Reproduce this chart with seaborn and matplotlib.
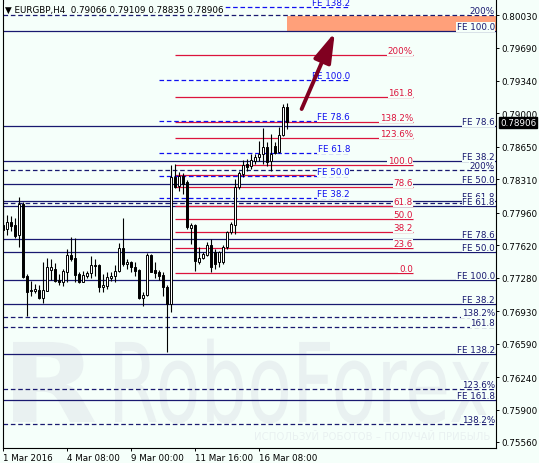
import numpy as np
import pandas as pd
import matplotlib
matplotlib.use("Agg")
import matplotlib.pyplot as plt
import matplotlib.transforms as mtrans
from matplotlib.textpath import TextPath
from matplotlib.patches import PathPatch
from matplotlib.font_manager import FontProperties
import seaborn as sns

# EURGBP H4 candles
opens = [0.7783, 0.7779, 0.7786, 0.7783, 0.7773, 0.7805, 0.7730, 0.7715, 0.7714, 0.7715,
         0.7707, 0.7714, 0.7736, 0.7737, 0.7726, 0.7724, 0.7734, 0.7752, 0.7749, 0.7732,
         0.7724, 0.7730, 0.7733, 0.7741, 0.7741, 0.7718, 0.7719, 0.7728, 0.7730, 0.7735,
         0.7759, 0.7742, 0.7744, 0.7739, 0.7736, 0.7707, 0.7710, 0.7752, 0.7736, 0.7734,
         0.7731, 0.7718, 0.7700, 0.7833, 0.7824, 0.7835, 0.7828, 0.7780, 0.7783, 0.7744,
         0.7749, 0.7752, 0.7762, 0.7755, 0.7744, 0.7744, 0.7760, 0.7776, 0.7783, 0.7823,
         0.7837, 0.7847, 0.7845, 0.7850, 0.7854, 0.7858, 0.7865, 0.7850, 0.7866, 0.7860,
         0.7877, 0.79066]
highs = [0.7810, 0.7794, 0.7793, 0.7791, 0.7812, 0.7807, 0.7732, 0.7725, 0.7721, 0.7720,
         0.7744, 0.7749, 0.7748, 0.7743, 0.7732, 0.7737, 0.7758, 0.7771, 0.7770, 0.7734,
         0.7735, 0.7735, 0.7751, 0.7748, 0.7742, 0.7732, 0.7734, 0.7734, 0.7741, 0.7764,
         0.7791, 0.7748, 0.7745, 0.7744, 0.7737, 0.7713, 0.7754, 0.7753, 0.7744, 0.7736,
         0.7734, 0.7720, 0.7846, 0.7847, 0.7839, 0.7838, 0.7830, 0.7785, 0.7784, 0.7760,
         0.7755, 0.7765, 0.7768, 0.7758, 0.7756, 0.7762, 0.7777, 0.7786, 0.7831, 0.7840,
         0.7851, 0.7852, 0.7857, 0.7857, 0.7871, 0.7885, 0.7870, 0.7878, 0.7870, 0.7886,
         0.7910, 0.79109]
lows = [0.7766, 0.7773, 0.7777, 0.7770, 0.7760, 0.7728, 0.7688, 0.7709, 0.7712, 0.7706,
        0.7702, 0.7714, 0.7726, 0.7724, 0.7720, 0.7719, 0.7724, 0.7746, 0.7723, 0.7722,
        0.7723, 0.7728, 0.7728, 0.7730, 0.7713, 0.7713, 0.7716, 0.7725, 0.7724, 0.7734,
        0.7740, 0.7737, 0.7734, 0.7730, 0.7706, 0.7698, 0.7709, 0.7734, 0.7728, 0.7726,
        0.7709, 0.7650, 0.7692, 0.7822, 0.7819, 0.7816, 0.7779, 0.7763, 0.7735, 0.7742,
        0.7748, 0.7751, 0.7734, 0.7737, 0.7739, 0.7742, 0.7758, 0.7774, 0.7774, 0.7821,
        0.7833, 0.7840, 0.7842, 0.7847, 0.7850, 0.7847, 0.7845, 0.7840, 0.7857, 0.7859,
        0.7876, 0.78835]
closes = [0.7778, 0.7786, 0.7782, 0.7772, 0.7805, 0.7729, 0.7713, 0.7714, 0.7716, 0.7707,
          0.7715, 0.7739, 0.7739, 0.7725, 0.7724, 0.7735, 0.7752, 0.7748, 0.7731, 0.7723,
          0.7731, 0.7733, 0.7741, 0.7740, 0.7718, 0.7720, 0.7729, 0.7730, 0.7735, 0.7759,
          0.7742, 0.7744, 0.7739, 0.7735, 0.7707, 0.7710, 0.7752, 0.7734, 0.7733, 0.7730,
          0.7718, 0.7700, 0.7833, 0.7823, 0.7834, 0.7826, 0.7781, 0.7783, 0.7745, 0.7749,
          0.7753, 0.7762, 0.7739, 0.7742, 0.7755, 0.7760, 0.7776, 0.7784, 0.7823, 0.7838,
          0.7846, 0.7844, 0.7851, 0.7854, 0.7858, 0.7865, 0.7849, 0.7858, 0.7859, 0.7877,
          0.7907, 0.78906]

x_ticks = [0, 16, 32, 48, 64]
x_labels = ['1 Mar 2016', '4 Mar 08:00', '9 Mar 00:00', '11 Mar 16:00', '16 Mar 08:00']
y_ticks = [0.80030, 0.79690, 0.79340, 0.79000, 0.78650, 0.78310, 0.77960,
           0.77620, 0.77280, 0.76930, 0.76590, 0.76240, 0.75900, 0.75560]

# red fibo retracement
fibo_levels = [0.79609, 0.79169, 0.78907, 0.78740, 0.78463, 0.78227, 0.78028,
               0.77895, 0.77755, 0.77591, 0.77329]
fibo_labels = ['200%', '161.8', '138.2%', '123.6%', '100.0', '78.6', '61.8',
               '50.0', '38.2', '23.6', '0.0']
red_extra = 0.78355

# short blue dashed expansion
fe_short_levels = [0.80114, 0.79350, 0.78918, 0.78582, 0.78342, 0.78111]
fe_short_labels = ['FE 138.2', 'FE 100.0', 'FE 78.6', 'FE 61.8', 'FE 50.0', 'FE 38.2']

# long navy levels
fe_levels = [0.79860, 0.78865, 0.78499, 0.78261, 0.78088, 0.78031, 0.77685,
             0.77552, 0.77259, 0.77005, 0.76481, 0.75999]
fe_labels = ['FE 100.0', 'FE 78.6', 'FE 38.2', 'FE 50.0', 'FE 61.8', 'FE 61.8',
             'FE 78.6', 'FE 50.0', 'FE 100.0', 'FE 38.2', 'FE 138.2', 'FE 161.8']
pct_levels = [0.80030, 0.78408, 0.78062, 0.76865, 0.76761, 0.76115, 0.75748]
pct_labels = ['200%', '200%', '', '138.2%', '161.8', '123.6%', '138.2%']

target_zone = (0.79860, 0.80017)
arrow_from = (74.6, 0.79046)
arrow_to = (82.9, 0.79849)
last_price = 0.78906

bg = '#F5FFFA'
navy = '#191970'
red = '#DC143C'
blue = '#1010F0'
fs = 6.3

sns.set_theme(style='white')
plt.rcParams['font.family'] = ['DejaVu Sans']
plt.rcParams['lines.scale_dashes'] = False

df = pd.DataFrame({'open': opens, 'high': highs, 'low': lows, 'close': closes})
df['idx'] = np.arange(len(df))
df['up'] = df['close'] >= df['open']

fig = plt.figure(figsize=(5.39, 4.64), dpi=100, facecolor=bg)
ax = fig.add_axes([0.005, 0.0334, 0.9152, 0.9666])
ax.set_facecolor(bg)
x0, x1 = -0.15, 123.2

# watermark
wm = '#E9F1F1'
fp = FontProperties(family='DejaVu Sans')
tp = TextPath((0, 0), 'RoboForex', size=1, prop=fp)
ext = tp.get_extents()
sx, sy = 375 / ext.width, 80 / 0.729
tr = mtrans.Affine2D().scale(sx, sy).translate(115 - ext.x0 * sx, 464 - 423)
ax.add_patch(PathPatch(tp, transform=tr, facecolor=wm, edgecolor='none', zorder=0.5))
tpr = TextPath((0, 0), 'R', size=1, prop=FontProperties(family='DejaVu Sans', weight='bold'))
er = tpr.get_extents()
sxr, syr = 82 / er.width, 80 / 0.729
trr = mtrans.Affine2D().scale(sxr, syr).translate(13 - er.x0 * sxr, 464 - 423)
ax.add_patch(PathPatch(tpr, transform=trr, facecolor=wm, edgecolor='none', zorder=0.5))
ax.text(490 / 539, 1 - 437 / 464, 'ИСПОЛЬЗУЙ РОБОТОВ – ПОЛУЧАЙ ПРИБЫЛЬ', transform=fig.transFigure,
        ha='right', va='center', fontsize=7.3, color=wm, zorder=0.5)
ax.set_xlim(x0, x1)
ax.set_ylim(0.755022, 0.80198)

# target zone
ax.fill_between([70.9, x1], target_zone[0], target_zone[1], color='#FFA07A', lw=0, zorder=1)

dash = (0, (3.3, 2.0))
off = 0.00021


def level_label(x, y, s, color):
    if s:
        ax.text(x, y + off, s, color=color, fontsize=fs, ha='right', va='baseline',
                bbox=dict(facecolor=bg, edgecolor='none', pad=0.3), zorder=4)


ax.hlines(fe_levels, x0, x1, color=navy, lw=0.9, zorder=2)
for lv, lb in zip(fe_levels, fe_labels):
    level_label(122.9, lv, lb, navy)
ax.hlines(pct_levels, x0, x1, color=navy, lw=0.9, linestyles=[dash], zorder=2)
for lv, lb in zip(pct_levels, pct_labels):
    level_label(122.9, lv, lb, navy)

ax.hlines(fibo_levels, 42.9, 102.4, color=red, lw=0.9, zorder=3)
ax.hlines([red_extra], 42.9, 77.9, color=red, lw=0.9, zorder=3)
for lv, lb in zip(fibo_levels, fibo_labels):
    level_label(102.4, lv, lb, red)

ax.hlines(fe_short_levels, 38.9, 86.2, color=blue, lw=0.9, linestyles=[dash], zorder=3)
for lv, lb in zip(fe_short_levels, fe_short_labels):
    level_label(86.7, lv, lb, blue)

# candles
ax.vlines(df['idx'], df['low'], df['high'], color='black', lw=0.8, zorder=5)
ax.bar(df['idx'], (df['close'] - df['open']).abs(), bottom=df[['open', 'close']].min(axis=1),
       width=0.55, color=np.where(df['up'], 'white', 'black'), edgecolor='black',
       linewidth=0.7, zorder=6)

ax.annotate('', xy=arrow_to, xytext=arrow_from,
            arrowprops=dict(arrowstyle='-|>,head_length=1.5,head_width=0.45', lw=2.8,
                            color='#800020', mutation_scale=12, shrinkA=0, shrinkB=0),
            zorder=7)

# axes
sns.despine(ax=ax, top=True, right=False, left=False, bottom=False)
for s in ['left', 'right', 'bottom']:
    ax.spines[s].set_color('black')
    ax.spines[s].set_linewidth(0.8)
ax.yaxis.tick_right()
ax.set_yticks(y_ticks)
ax.set_yticklabels([f'{v:.5f}' for v in y_ticks])
ax.set_xticks(x_ticks)
ax.set_xticklabels(x_labels)
for t in ax.get_xticklabels():
    t.set_ha('left')
ax.tick_params(axis='both', which='major', length=2.5, width=0.7, pad=1.5,
               labelsize=fs, colors='black', direction='out')
ax.tick_params(axis='x', bottom=True)
ax.tick_params(axis='y', right=True, left=False)
ax.grid(False)

ax.text(1.008, last_price, f'{last_price:.5f}', transform=mtrans.blended_transform_factory(ax.transAxes, ax.transData),
        ha='left', va='center', color='white', fontsize=fs,
        bbox=dict(facecolor='black', edgecolor='black', pad=1.0), clip_on=False, zorder=10)

fig.text(5 / 539, 1 - 10 / 464, '\u25bc EURGBP,H4  0.79066 0.79109 0.78835 0.78906', ha='left', va='center',
         fontsize=fs, color='black', bbox=dict(facecolor=bg, edgecolor='none', pad=0.5))

fig.savefig('out.png', dpi=100, facecolor=bg)
